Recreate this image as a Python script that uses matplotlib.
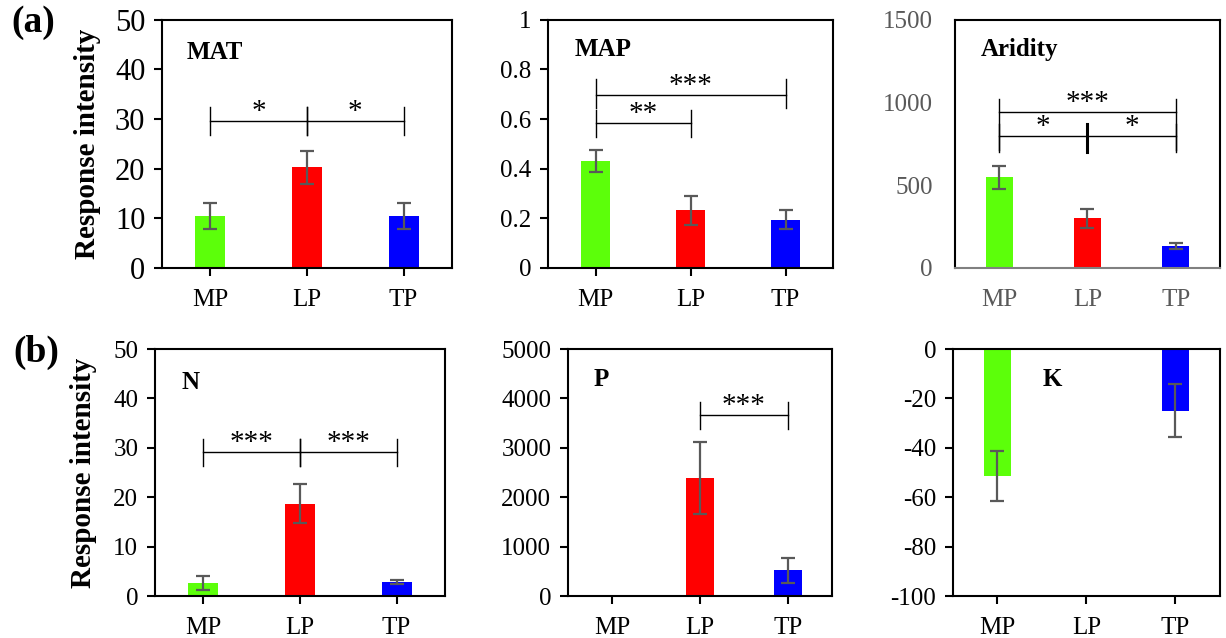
import matplotlib
matplotlib.use('Agg')
from matplotlib import pyplot as plt

plt.rcParams['font.family'] = ['Liberation Serif', 'DejaVu Serif']

groups = ['MP', 'LP', 'TP']
colors = ['#5cff0a', '#ff0000', '#0000ff']

mat_mean = [10.4, 20.3, 10.5]
mat_err = [2.6, 3.3, 2.6]
map_mean = [0.43, 0.233, 0.195]
map_err = [0.045, 0.058, 0.037]
aridity_mean = [547, 299, 133]
aridity_err = [70, 59, 20]
n_mean = [2.7, 18.7, 2.85]
n_err = [1.4, 3.9, 0.4]
p_mean = [0, 2390, 520]
p_err = [0, 720, 255]
k_mean = [-51.5, 0, -25]
k_err = [10.1, 0, 10.7]

# significance brackets: (x1, x2, line y, tick low, tick high, stars)
mat_sig = [(0, 1, 29.7, 26.8, 32.4, '*'), (1, 2, 29.7, 26.8, 32.4, '*')]
map_sig = [(0, 1, 0.586, 0.529, 0.635, '**'), (0, 2, 0.697, 0.646, 0.76, '***')]
aridity_sig = [(0, 2, 941, 713, 1022, '***'), (0, 1, 798, 702, 870, '*'),
               (1, 2, 798, 702, 870, '*')]
n_sig = [(0, 1, 29.1, 26.4, 31.8, '***'), (1, 2, 29.1, 26.4, 31.8, '***')]
p_sig = [(1, 2, 3669, 3378, 3919, '***')]

fig = plt.figure(figsize=(12.26, 6.38), dpi=100)


def panel(rect, mean, err, ylim, yticks, ylabels, title, title_xy, sigs, grey=False,
          ylabel=None, ysize=18, lpad=12):
    ax = fig.add_axes(rect)
    x = range(len(groups))
    ax.bar(x, mean, width=0.31, color=colors, zorder=2)
    for xi, m, e in zip(x, mean, err):
        if e > 0:
            ax.errorbar(xi, m, yerr=e, fmt='none', ecolor='#595959', elinewidth=1.6,
                        capsize=5, capthick=1.6, zorder=3)
    ax.set_xlim(-0.5, 2.5)
    ax.set_ylim(*ylim)
    ax.set_yticks(yticks)
    ax.set_yticklabels(ylabels)
    ax.set_xticks(list(x))
    ax.set_xticklabels(groups)
    for s in ax.spines.values():
        s.set_linewidth(1.5)
    if grey:
        ax.spines['bottom'].set_color('#808080')
        ax.tick_params(length=0, labelsize=18, labelcolor='#595959')
        ax.tick_params(axis='y', pad=16)
        ax.tick_params(axis='x', pad=15)
    else:
        ax.tick_params(length=6, width=1.5, labelsize=18)
        ax.tick_params(axis='y', pad=6, labelsize=ysize)
        ax.tick_params(axis='x', pad=9)
    ax.text(title_xy[0], title_xy[1], title, transform=ax.transAxes, fontsize=18,
            fontweight='bold', va='center', ha='left')
    for x1, x2, y, lo, hi, lab in sigs:
        ax.plot([x1, x2], [y, y], color='black', lw=1.0, zorder=4)
        ax.plot([x1, x1], [lo, hi], color='black', lw=1.0, zorder=4)
        ax.plot([x2, x2], [lo, hi], color='black', lw=1.0, zorder=4)
        ax.annotate(lab, ((x1 + x2) / 2, y), xytext=(0, -3), textcoords='offset points',
                    ha='center', va='bottom', fontsize=21)
    if ylabel:
        ax.set_ylabel(ylabel, fontsize=21, fontweight='bold', labelpad=lpad)
    return ax


panel([0.1321, 0.580, 0.2365, 0.389], mat_mean, mat_err, (0, 50), [0, 10, 20, 30, 40, 50],
      ['0', '10', '20', '30', '40', '50'], 'MAT', (0.086, 0.87), mat_sig,
      ylabel='Response intensity', ysize=22, lpad=10)
panel([0.447, 0.580, 0.2325, 0.389], map_mean, map_err, (0, 1), [0, 0.2, 0.4, 0.6, 0.8, 1],
      ['0', '0.2', '0.4', '0.6', '0.8', '1'], 'MAP', (0.095, 0.88), map_sig)
ax3 = panel([0.779, 0.580, 0.216, 0.389], aridity_mean, aridity_err, (0, 1500), [0, 500, 1000, 1500],
            ['0', '500', '1000', '1500'], 'Aridity', (0.098, 0.88), aridity_sig, grey=True)
ax3.plot([1, 1], [702, 870], color='black', lw=2.2, zorder=5)

panel([0.1264, 0.0658, 0.2365, 0.387], n_mean, n_err, (0, 50), [0, 10, 20, 30, 40, 50],
      ['0', '10', '20', '30', '40', '50'], 'N', (0.093, 0.866), n_sig,
      ylabel='Response intensity', lpad=12)
panel([0.4633, 0.0658, 0.2153, 0.387], p_mean, p_err, (0, 5000), [0, 1000, 2000, 3000, 4000, 5000],
      ['0', '1000', '2000', '3000', '4000', '5000'], 'P', (0.095, 0.875), p_sig)
panel([0.7773, 0.0658, 0.2178, 0.387], k_mean, k_err, (-100, 0), [-100, -80, -60, -40, -20, 0],
      ['-100', '-80', '-60', '-40', '-20', '0'], 'K', (0.337, 0.875), [])

fig.text(0.027, 0.965, '(a)', fontsize=27, fontweight='bold', ha='center', va='center')
fig.text(0.030, 0.447, '(b)', fontsize=27, fontweight='bold', ha='center', va='center')

fig.savefig('out.png', dpi=100)
